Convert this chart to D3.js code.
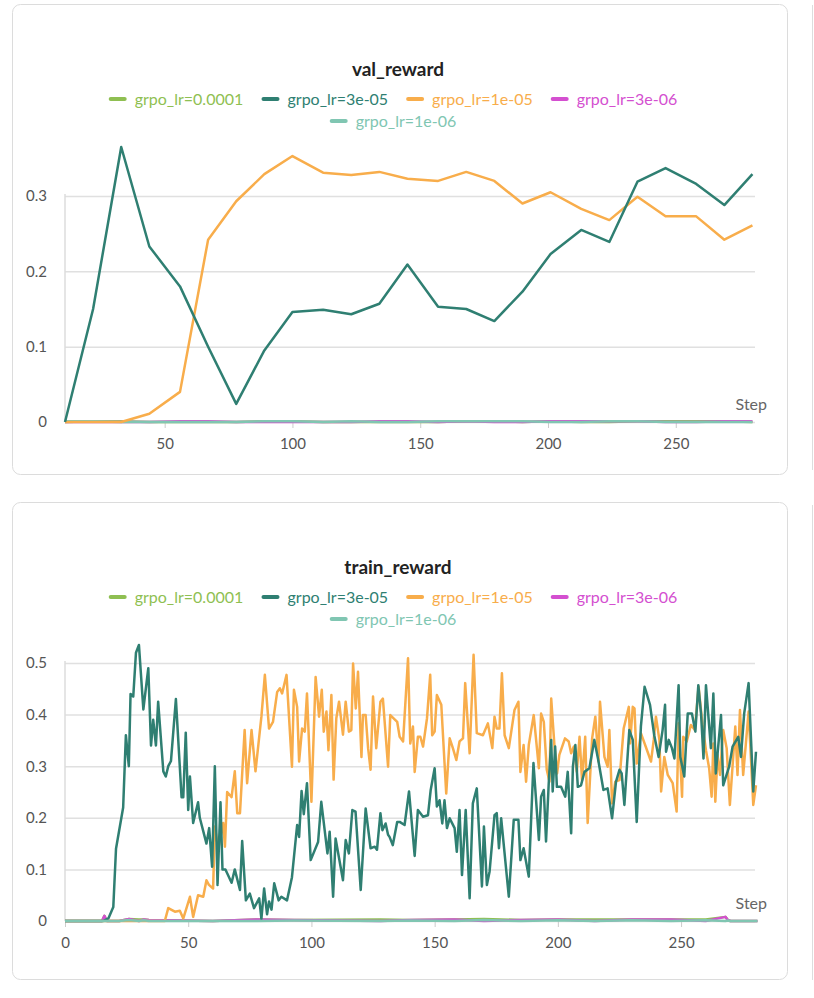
<!DOCTYPE html>
<html><head><meta charset="utf-8">
<script src="https://cdn.jsdelivr.net/npm/d3@7"></script>
<style>body{margin:0;background:#fff;font-family:Lato,"Noto Sans",sans-serif}</style>
</head><body><svg id="c" width="814" height="998"></svg>
<script>
const seriesNames=["grpo_lr=0.0001","grpo_lr=3e-05","grpo_lr=1e-05","grpo_lr=3e-06","grpo_lr=1e-06"];
const seriesColors=["#8fbf52","#2f7f72","#f8ad4b","#d44fd0","#80c6b2"];
const valSteps=[11,22,33,44,56,67,78,89,100,112,123,134,145,157,168,179,190,201,213,224,235,246,258,269,280];
const valGreen=[0,0.15,0.365,0.233,0.18,0.1,0.024,0.095,0.146,0.149,0.143,0.157,0.209,0.153,0.15,0.134,0.173,0.223,0.255,0.239,0.319,0.337,0.316,0.288,0.329];
const valOrange=[0,0,0,0.011,0.04,0.242,0.293,0.329,0.353,0.331,0.328,0.332,0.323,0.32,0.332,0.32,0.29,0.305,0.283,0.268,0.299,0.273,0.273,0.242,0.261];
const valSmall=[0,0.001,0.001,0,0,0,0,0.001,0.001,0,0,0,0,0,0.001,0.001,0,0.001,0,0,0.001,0.001,0.001,0.001,0];
const valTicksX=[50,100,150,200,250];
const valTicksY=[0,0.1,0.2,0.3];
const trGreenSteps=[0,15.5,17.6,19.6,20.7,23.6,24.7,25.9,26.6,27.7,28.8,30,31.8,33.8,34.9,35.8,36.9,37.8,39.9,40.9,41.9,43,45,47.3,48,49,50,50.7,52,54,54.7,57.4,58.5,59.7,60.8,61.9,63.1,63.9,65.1,67.6,68.9,71,71.9,73.4,75,76.7,78.8,79.7,80.8,82,82.8,83.8,84.9,86.7,87.8,90.1,92.1,94.2,95,96,96.9,98.2,99.7,102.7,104,106.5,107.4,108.8,109.8,112.8,113.9,115.2,116.6,117.9,120,122,124,125.7,126.6,128,128.8,130.1,131.1,131.7,133,134.8,
135.8,137.8,139.6,141.9,143.2,145.3,147.3,148.4,150,150.9,152,153.1,154,155,156.1,158.1,159,160.1,161.1,162.6,164.2,165.5,167.1,169.2,170,171.2,172.3,174.3,175.2,176.1,177,180.1,182.1,184,184.8,186.1,188.2,190.1,192.3,193.2,194.3,195.2,196.3,197.3,197.9,198.9,199.6,201.3,203,204,205.4,206.1,207.1,208.1,209.4,210.8,212.8,214.8,216.5,218.5,220.2,222,223.6,225,225.9,227,229,230.4,232,233.7,235.2,237.4,239.1,240.9,242.5,243.5,243.9,245,246.3,247.3,249,249.7,251.3,252.7,254.4,255.8,257,258.1,259.1,260.1,262.1,263.1,264.1,266.2,267.1,269.5,270.9,273.2,274.3,275.6,277.4,279.3,280.4];
const trGreenVals=[0,0,0.005,0.027,0.14,0.22,0.36,0.30,0.44,0.435,0.52,0.535,0.41,0.49,0.34,0.39,0.34,0.425,0.29,0.28,0.30,0.31,0.43,0.24,0.24,0.365,0.215,0.28,0.19,0.23,0.2,0.15,0.18,0.105,0.30,0.07,0.23,0.1,0.1,0.074,0.1,0.06,0.155,0.04,0.053,0.025,0.044,0.004,0.063,0.013,0.038,0.022,0.073,0.04,0.047,0.04,0.085,0.186,0.163,0.252,0.207,0.267,0.118,0.153,0.231,0.131,0.173,0.047,0.16,0.079,0.157,0.131,0.215,0.212,0.06,0.218,0.141,0.144,0.138,0.209,0.176,0.189,0.167,0.163,0.147,0.192,
0.192,0.186,0.251,0.126,0.215,0.202,0.205,0.254,0.296,0.222,0.234,0.189,0.234,0.18,0.199,0.18,0.134,0.215,0.089,0.215,0.044,0.228,0.257,0.067,0.183,0.07,0.096,0.205,0.209,0.141,0.199,0.047,0.196,0.196,0.118,0.141,0.086,0.306,0.157,0.241,0.254,0.154,0.267,0.351,0.251,0.338,0.26,0.26,0.241,0.289,0.17,0.299,0.341,0.26,0.263,0.289,0.296,0.351,0.309,0.254,0.257,0.199,0.27,0.293,0.286,0.225,0.37,0.351,0.192,0.377,0.454,0.419,0.36,0.318,0.37,0.419,0.328,0.351,0.335,0.315,0.457,0.318,0.28,0.402,0.402,0.367,0.457,0.402,0.315,0.457,0.335,0.441,0.286,0.399,0.263,0.299,0.338,0.357,0.318,0.402,0.461,0.251,0.328];
const trOrangeSteps=[0,40.5,41.9,44.6,46.6,48,49.3,50.7,52,54,56.1,57.4,58.4,60.1,60.8,62.2,64.2,64.9,65.8,67.6,68.9,69.9,71,72.9,73.9,75.7,77.3,79.7,81.1,82.8,84.4,86.1,87.2,88.1,89.9,92.1,92.9,94.2,95,96.2,97.3,98.2,100,101.7,103.1,104.2,105,106.1,106.9,108.1,109,110.1,111.2,112.8,113.9,115.2,116.2,116.9,118,118.9,120.3,120.9,122,123,124,125,126.3,128,129,131.1,132,134.8,
135.8,137.2,139.2,140.1,141.2,141.9,143.2,144.2,145.3,146.9,148.2,149,150,150.9,152.7,154.7,156.1,157.4,158.8,160.1,161.5,162.4,164.2,165.8,167.1,169.6,171.6,173.4,174.3,175.2,176.3,177.3,178.4,180.1,182.4,184,184.8,186.1,187.1,188.2,190.2,192.3,193.2,194.3,195.5,196.6,197.3,198.6,199.7,200.6,202.9,204.4,205.4,206.5,207.7,208.8,209.8,211.1,212.1,213.9,215.2,216.5,217.1,218.9,220.2,220.9,222,223.3,225,226.7,228.8,229.3,230.4,231.1,232,233.7,236.4,237.8,238.9,239.8,241.2,241.9,243.2,244.6,246.6,248.2,249,250.4,250.9,252.3,254,255.6,257.1,258.7,260.1,261.4,262.4,263.1,263.9,264.8,265.8,267.1,268.5,269.8,272,272.9,273.9,275.2,276.3,277.4,279.3,280.4];
const trOrangeVals=[0,0,0.025,0.018,0.02,0.005,0.025,0.047,0.008,0.05,0.047,0.079,0.07,0.063,0.183,0.14,0.19,0.144,0.25,0.24,0.29,0.209,0.209,0.37,0.267,0.37,0.29,0.396,0.477,0.373,0.386,0.444,0.451,0.441,0.477,0.299,0.448,0.415,0.309,0.373,0.367,0.441,0.231,0.473,0.396,0.448,0.367,0.406,0.331,0.438,0.274,0.393,0.425,0.361,0.425,0.367,0.37,0.499,0.412,0.483,0.318,0.399,0.399,0.335,0.293,0.435,0.335,0.425,0.431,0.299,0.399,0.386,
0.357,0.348,0.509,0.344,0.377,0.289,0.357,0.357,0.338,0.393,0.477,0.36,0.367,0.438,0.419,0.247,0.354,0.335,0.312,0.348,0.354,0.461,0.325,0.516,0.364,0.36,0.383,0.335,0.396,0.373,0.373,0.48,0.36,0.335,0.409,0.425,0.289,0.341,0.27,0.341,0.399,0.296,0.402,0.386,0.293,0.27,0.431,0.341,0.286,0.322,0.354,0.348,0.325,0.338,0.289,0.357,0.273,0.357,0.19,0.354,0.396,0.309,0.425,0.318,0.299,0.37,0.228,0.27,0.273,0.373,0.415,0.344,0.415,0.412,0.305,0.364,0.328,0.309,0.351,0.396,0.351,0.251,0.318,0.283,0.267,0.212,0.383,0.241,0.357,0.348,0.38,0.37,0.454,0.38,0.331,0.296,0.241,0.344,0.231,0.322,0.283,0.37,0.335,0.225,0.377,0.283,0.409,0.283,0.344,0.406,0.225,0.263];
const trSmallSteps=[0,15,16,17,22,26,30,32,34,60,78,93,128,140,158,170,185,200,215,230,246,260,268,269,270,281];
const trSmallVals=[0,0,0.01,0,0,0.004,0.003,0.003,0.002,0,0.003,0.002,0.003,0.002,0.003,0.004,0.002,0.003,0.003,0.003,0.003,0.003,0.008,0.002,0,0];
const trTicksX=[0,50,100,150,200,250];
const trTicksY=[0,0.1,0.2,0.3,0.4,0.5];

const svg=d3.select("#c");
// partial neighbour card edge
svg.append("line").attr("x1",812.5).attr("x2",812.5).attr("y1",5).attr("y2",470).attr("stroke","#ddd");
svg.append("line").attr("x1",812.5).attr("x2",812.5).attr("y1",505).attr("y2",980).attr("stroke","#ddd");

function panel(o){
  const g=svg.append("g");
  g.append("rect").attr("x",12.5).attr("y",o.top+0.5).attr("width",775).attr("height",o.h).attr("rx",8).attr("fill","#fff").attr("stroke","#dcdcdc");
  g.append("text").attr("x",398).attr("y",o.top+72).attr("text-anchor","middle").attr("font-size",19).attr("font-weight","bold").attr("fill","#222").text(o.title);
  // legend
  const rows=[[0,1,2,3],[4]];
  rows.forEach((r,ri)=>{
    const widths=r.map(i=>seriesNames[i].length*8.2+26);
    const tot=d3.sum(widths)+(r.length-1)*12;
    let x=398-tot/2;
    r.forEach((i,k)=>{
      const y=o.top+95+ri*22;
      g.append("line").attr("x1",x).attr("x2",x+14).attr("y1",y).attr("y2",y).attr("stroke",seriesColors[i]).attr("stroke-width",4).attr("stroke-linecap","round");
      g.append("text").attr("x",x+24).attr("y",y+6).attr("font-size",16).attr("fill",seriesColors[i]).text(seriesNames[i]);
      x+=widths[k]+12;
    });
  });
  const x=d3.scaleLinear().domain(o.xd).range([65,755]);
  const y=d3.scaleLinear().domain(o.yd).range([o.y0,o.y1]);
  g.append("g").attr("transform","translate(65,0)").call(d3.axisLeft(y).tickValues(o.ty).tickSize(-690).tickFormat(d=>d===0?"0":d3.format(".1f")(d)))
   .call(a=>{a.select(".domain").remove();a.selectAll(".tick line").attr("stroke","#e0e0e0").attr("stroke-width",1.5);
     a.selectAll(".tick text").attr("x",-18).attr("font-size",15).attr("fill","#555").attr("font-family","Lato,sans-serif");});
  g.append("line").attr("x1",65).attr("x2",65).attr("y1",o.y1-2).attr("y2",o.y0).attr("stroke","#ddd").attr("stroke-width",1.5);
  g.append("g").attr("transform",`translate(0,${o.y0})`).call(d3.axisBottom(x).tickValues(o.tx).tickSize(6).tickFormat(d3.format("d")))
   .call(a=>{a.select(".domain").remove();a.selectAll(".tick line").attr("stroke","#ccc");
     a.selectAll(".tick text").attr("dy","1.2em").attr("font-size",15).attr("fill","#555").attr("font-family","Lato,sans-serif");});
  g.append("text").attr("x",767).attr("y",o.y0-12).attr("text-anchor","end").attr("font-size",16).attr("fill","#666").text("Step");
  const line=d3.line().x(d=>x(d[0])).y(d=>y(d[1]));
  o.series.forEach(s=>{
    g.append("path").datum(d3.zip(s.steps,s.vals)).attr("d",line).attr("fill","none").attr("stroke",seriesColors[s.c]).attr("stroke-width",s.w||2.5).attr("stroke-linejoin","round");
  });
}
panel({top:4,h:470,title:"val_reward",xd:[11,281],yd:[0,0.3],y0:422,y1:196,ty:valTicksY,tx:valTicksX,
 series:[{c:0,steps:valSteps,vals:valSmall},{c:3,steps:valSteps,vals:valSmall.map((v,i)=>valSmall[(i+3)%valSmall.length])},{c:4,steps:valSteps,vals:valSmall.map((v,i)=>valSmall[(i+7)%valSmall.length])},
  {c:2,steps:valSteps,vals:valOrange},{c:1,steps:valSteps,vals:valGreen}]});
panel({top:502,h:477,title:"train_reward",xd:[0,280],yd:[0,0.5],y0:921,y1:663,ty:trTicksY,tx:trTicksX,
 series:[{c:0,steps:trSmallSteps,vals:trSmallVals},{c:3,steps:trSmallSteps,vals:trSmallVals.map((v,i)=>i%3===0?0:v)},
  {c:2,steps:trOrangeSteps,vals:trOrangeVals},{c:1,steps:trGreenSteps,vals:trGreenVals},{c:4,steps:trSmallSteps,vals:trSmallVals.map((v,i)=>i%2?v*0.5:0)}]});
</script></body></html>
